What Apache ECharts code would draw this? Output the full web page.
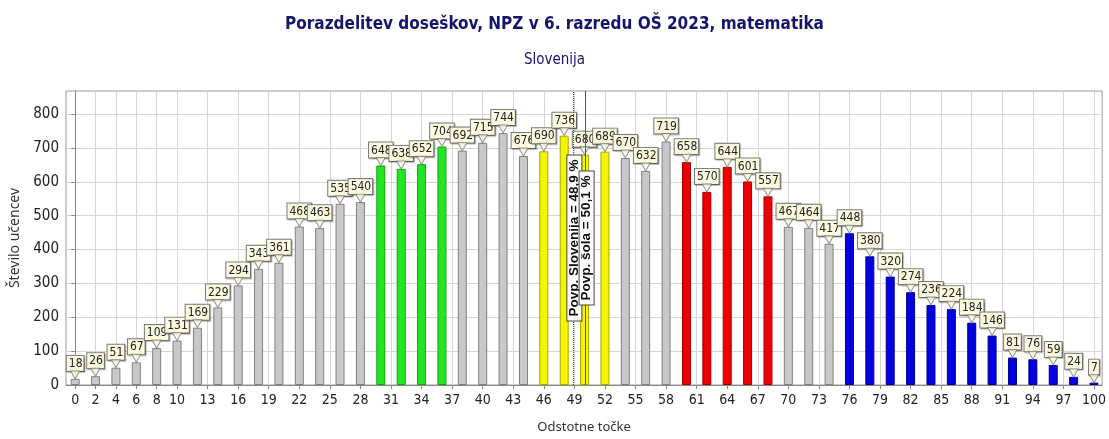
<!DOCTYPE html>
<html><head><meta charset="utf-8">
<script src="https://cdn.jsdelivr.net/npm/echarts@6/dist/echarts.min.js"></script>
<style>html,body{margin:0;padding:0;background:#fff}#c{width:1109px;height:439px}</style>
</head><body><div id="c"></div>
<script>
// score positions (percent points) and counts
const scores = [0,2,4,6,8,10,12,14,16,18,20,22,24,26,28,30,32,34,36,38,40,42,44,46,48,50,52,54,56,58,60,62,64,66,68,70,72,74,76,78,80,82,84,86,88,90,92,94,96,98,100];
const counts = [18,26,51,67,109,131,169,229,294,343,361,468,463,535,540,648,638,652,704,692,715,744,676,690,736,680,689,670,632,719,658,570,644,601,557,467,464,417,448,380,320,274,236,224,184,146,81,76,59,24,7];
const xTicks = [0,2,4,6,8,10,13,16,19,22,25,28,31,34,37,40,43,46,49,52,55,58,61,64,67,70,73,76,79,82,85,88,91,94,97,100];
const yTicks = [0,100,200,300,400,500,600,700,800];
const avgSlovenija = 48.9;
const avgSola = 50.1;

const NARROW = "'DejaVu Sans Condensed','Liberation Sans Narrow',sans-serif";

function barColor(x){
  if (x>=30 && x<=36) return ['#22e622','#14a014'];
  if (x>=46 && x<=52) return ['#f4f400','#a8a800'];
  if (x>=60 && x<=68) return ['#ee0000','#a00000'];
  if (x>=76) return ['#0000e0','#000090'];
  return ['#c8c8c8','#808080'];
}

const barData = scores.map((x,i)=>{
  const c = barColor(x);
  return {value:[x,counts[i]], itemStyle:{color:c[0], borderColor:c[1], borderWidth:1}};
});

const chart = echarts.init(document.getElementById('c'));
chart.setOption({
  animation:false,
  title:[
    {text:'Porazdelitev doseškov, NPZ v 6. razredu OŠ 2023, matematika', left:'center', top:11,
     textStyle:{fontFamily:NARROW, fontSize:17, fontWeight:'bold', color:'#14146e'}},
    {text:'Slovenija', left:'center', top:48,
     textStyle:{fontFamily:NARROW, fontSize:15, fontWeight:'normal', color:'#14146e'}}
  ],
  grid:{left:66, right:6, top:91, bottom:54, show:true, borderColor:'#9a9a9a', borderWidth:1},
  xAxis:{
    type:'value', min:-0.9, max:100.8,
    name:'Odstotne točke', nameLocation:'middle', nameGap:36,
    nameTextStyle:{fontFamily:"'Noto Sans',sans-serif", fontSize:13, color:'#333'},
    axisLine:{show:true, lineStyle:{color:'#888'}},
    axisTick:{show:true, length:4, customValues:xTicks, lineStyle:{color:'#888'}},
    axisLabel:{customValues:xTicks, fontFamily:NARROW, fontSize:14, color:'#222', margin:8},
    splitLine:{show:true, lineStyle:{color:'#d6d6d6', width:1}}
  },
  yAxis:{
    type:'value', min:0, max:868,
    name:'Število učencev', nameLocation:'middle', nameGap:44,
    nameTextStyle:{fontFamily:"'Noto Sans',sans-serif", fontSize:14, color:'#333'},
    axisLine:{show:true, lineStyle:{color:'#888'}},
    axisTick:{show:true, length:4, customValues:yTicks, lineStyle:{color:'#888'}},
    axisLabel:{customValues:yTicks, fontFamily:NARROW, fontSize:15, color:'#222', margin:7},
    splitLine:{show:true, lineStyle:{color:'#d6d6d6', width:1}}
  },
  series:[
    {
      type:'bar', data:barData, barWidth:9, z:3,
      label:{show:true, position:'top', distance:8, formatter:p=>p.value[1],
        fontFamily:NARROW, fontSize:12, color:'#222',
        backgroundColor:'#fbfbe0', borderColor:'#7a7a7a', borderWidth:1, padding:[2,1,1,2],
        shadowColor:'rgba(0,0,0,0.25)', shadowOffsetX:1, shadowOffsetY:1, shadowBlur:1},
      markLine:{
        silent:true, symbol:'none', animation:false,
        data:[
          {xAxis:avgSlovenija, lineStyle:{type:'dotted', color:'#444', width:1},
           label:{formatter:'Povp. Slovenija = 48,9 %'}},
          {xAxis:avgSola, lineStyle:{type:'solid', color:'#555', width:1},
           label:{formatter:'Povp. šola = 50,1 %'}}
        ],
        label:{show:true, position:'middle', distance:-8, fontFamily:"'Liberation Sans','Arial',sans-serif",
          fontSize:13.5, fontWeight:'bold', color:'#111', backgroundColor:'#fff',
          borderColor:'#444', borderWidth:1, padding:[0,4,0,4]}
      }
    },
    {
      type:'scatter', z:4, silent:true,
      data:scores.map((x,i)=>[x,counts[i]]),
      symbol:'path://M0,0 L10,0 L5,10 Z', symbolSize:[9,8], symbolOffset:[0,-4],
      itemStyle:{color:'#fbfbe0', borderColor:'#7a7a7a', borderWidth:1}
    }
  ]
});
</script></body></html>
